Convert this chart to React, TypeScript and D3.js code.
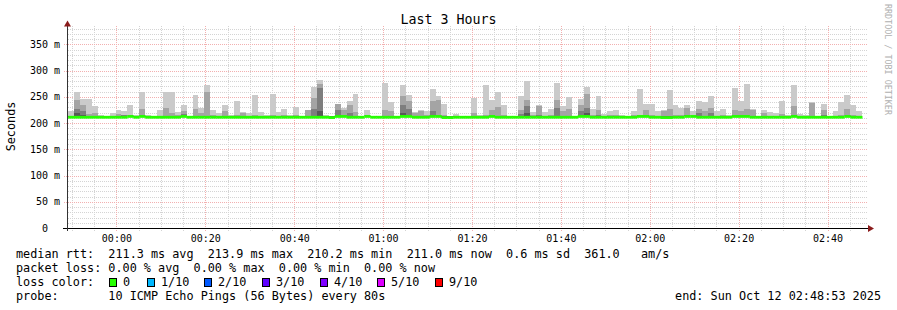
import React from "react";
import * as d3 from "d3";

// ---------- data ----------
const endTime = Date.UTC(2025, 9, 12, 2, 48, 53);
const spanMs = 3 * 3600 * 1000;
const stepMs = 80 * 1000;
const firstStepOffsetMs = 15000;

// 10th (max) ping of each 80 s step, ms
const ping10: number[] = [
  222, 260, 245, 245, 231.6, 216, 213, 219, 224.6, 222.7,
  233.5, 215.7, 260, 216, 213, 224.6, 259, 260, 220.8, 233.5,
  213, 252.5, 228, 271.6, 224.6, 219, 235, 216, 241, 220.8,
  219, 252.5, 220.8, 216, 254.5, 220.8, 226.5, 216, 230, 213,
  224.6, 268.4, 281, 214.4, 213, 237, 228, 241, 254.5, 213,
  224, 213, 213, 275.4, 239.8, 213, 271.6, 252.5, 220.8, 224.6,
  222.7, 264, 250.6, 237, 213, 217.6, 213, 213, 247.5, 214.4,
  271.6, 243, 260, 235, 213, 213, 250.6, 280, 220.8, 235,
  220.8, 226.5, 276, 231.6, 249.4, 213, 245, 268, 226.5, 250.6,
  218, 222, 224, 216, 213, 222, 264, 237, 237, 222,
  224.6, 262, 235, 228, 233.5, 223, 241, 239.8, 250.6, 222,
  226.5, 216, 266.5, 241, 273.5, 226.5, 213, 224.6, 220.8, 219,
  241, 216, 271.6, 218, 214.4, 239.8, 213, 237, 213, 222,
  239.8, 252.5, 233.5, 222,
];
// 9th ping
const ping9: number[] = [
  213.5, 243, 233.5, 218, 219, 213.5, 213.5, 213.5, 217, 215,
  216, 213.5, 226.5, 213.5, 213.5, 213.5, 228, 219, 216, 222,
  213.5, 226.5, 219, 259, 216, 213.5, 222, 213.5, 216, 219,
  213.5, 216, 213.5, 213.5, 216, 213.5, 216, 213.5, 215, 213.5,
  224.6, 247.5, 275, 213.5, 213.5, 237, 224.6, 235, 220.8, 213.5,
  216, 213.5, 213.5, 224.6, 222.7, 213.5, 250.6, 241, 219, 222,
  216, 241, 243, 216, 213.5, 213.5, 213.5, 213.5, 219, 213.5,
  216, 224.6, 230, 216, 213.5, 213.5, 224.6, 243, 216, 231.6,
  213.5, 216, 243, 222.7, 226.5, 213.5, 235, 254.5, 216, 224.6,
  213.5, 216, 216, 213.5, 213.5, 216, 216, 224.6, 216, 213.5,
  222.7, 226, 216, 216, 228, 213.5, 226.5, 222, 228, 213.5,
  216, 213.5, 224.6, 222.7, 226.5, 224.6, 213.5, 219, 213.5, 213.5,
  216.5, 213.5, 231.6, 213.5, 213.5, 238.5, 213.5, 224.6, 213.5, 213.5,
  216, 226, 216, 213.5,
];
// 8th ping
const ping8: number[] = [
  213, 227, 222.7, 213, 213, 213, 213, 213, 213, 214.5,
  213, 213, 213, 213, 213, 213, 213, 213, 213, 217,
  213, 213, 213, 213, 213, 213, 213, 213, 213, 213,
  213, 213, 213, 213, 213, 213, 213, 213, 213, 213,
  213, 226.5, 266.5, 213, 213, 224.6, 213, 219, 213, 213,
  213, 213, 213, 213, 213, 213, 233.5, 226.5, 213, 213,
  213, 222, 213, 213, 213, 213, 213, 213, 213, 213,
  213, 213, 213, 213, 213, 213, 218, 231.6, 213, 216,
  213, 213, 228, 213, 213, 213, 222, 228, 213, 216,
  213, 213, 213, 213, 213, 213, 213, 213, 213, 213,
  213, 213, 213, 213, 216, 213, 219, 213, 219, 213,
  213, 213, 213, 213, 213, 213, 213, 213, 213, 213,
  213, 213, 216, 213, 213, 213, 213, 216, 213, 213,
  213, 213, 213, 213,
];
// 7th ping
const ping7: number[] = [
  212.5, 220, 216, 212.5, 212.5, 212.5, 212.5, 212.5, 212.5, 212.5,
  212.5, 212.5, 212.5, 212.5, 212.5, 212.5, 212.5, 212.5, 212.5, 212.5,
  212.5, 212.5, 212.5, 212.5, 212.5, 212.5, 212.5, 212.5, 212.5, 212.5,
  212.5, 212.5, 212.5, 212.5, 212.5, 212.5, 212.5, 212.5, 212.5, 212.5,
  212.5, 212.5, 222, 212.5, 212.5, 212.5, 212.5, 212.5, 212.5, 212.5,
  212.5, 212.5, 212.5, 212.5, 212.5, 212.5, 220, 212.5, 212.5, 212.5,
  212.5, 212.5, 212.5, 212.5, 212.5, 212.5, 212.5, 212.5, 212.5, 212.5,
  212.5, 212.5, 212.5, 212.5, 212.5, 212.5, 212.5, 219, 212.5, 212.5,
  212.5, 212.5, 212.5, 212.5, 212.5, 212.5, 212.5, 219, 212.5, 212.5,
  212.5, 212.5, 212.5, 212.5, 212.5, 212.5, 212.5, 212.5, 212.5, 212.5,
  212.5, 212.5, 212.5, 212.5, 212.5, 212.5, 212.5, 212.5, 212.5, 212.5,
  212.5, 212.5, 212.5, 212.5, 212.5, 212.5, 212.5, 212.5, 212.5, 212.5,
  212.5, 212.5, 212.5, 212.5, 212.5, 212.5, 212.5, 212.5, 212.5, 212.5,
  212.5, 212.5, 212.5, 212.5,
];
// median rtt
const median: number[] = [
  211, 211, 211, 211, 211, 211, 211, 211, 211, 211,
  212.5, 211, 212.5, 211, 211, 211, 211, 211, 211, 212.5,
  211, 211, 211, 211, 211, 211, 211, 211, 211, 211,
  211, 211, 211, 211, 211, 211, 211, 211, 211, 211,
  211, 211, 211, 211, 210.4, 212.5, 212.5, 211, 211, 211,
  212.5, 211, 211, 211, 211, 211, 212.5, 212.5, 211, 211,
  211, 212.5, 212.5, 210.4, 210.4, 211, 211, 211, 211, 211,
  211, 212.5, 211, 211, 211, 211, 211, 211, 211, 211,
  211, 211, 211, 211, 211, 211, 212.5, 212.5, 211, 211,
  211, 211, 211, 211, 211, 211, 212.5, 212.5, 211, 211,
  210.4, 210.4, 211, 211, 212.5, 212.5, 211, 211, 211, 211,
  211, 211, 212.5, 212.5, 212.5, 211, 211, 211, 211, 211,
  211, 211, 212.5, 211, 211, 211, 211, 211, 211, 211,
  211, 212.5, 211, 211,
];

const yTickValues = [0, 50, 100, 150, 200, 250, 300, 350];
const lossLabels = ["0", "1/10", "2/10", "3/10", "4/10", "5/10", "9/10"];
const lossColors = ["#26ff00", "#00b8ff", "#0059ff", "#5e00ff", "#7e00ff", "#dd00ff", "#ff0000"];
const lossBoxX = [109, 147, 204, 262, 320, 377, 435];
const smokeColors = ["#cacaca", "#a4a4a4", "#7e7e7e", "#585858"];

const line1 = "median rtt:  211.3 ms avg  213.9 ms max  210.2 ms min  211.0 ms now  0.6 ms sd  361.0   am/s";
const line2 = "packet loss: 0.00 % avg  0.00 % max  0.00 % min  0.00 % now";
const line4 = "probe:       10 ICMP Echo Pings (56 Bytes) every 80s";
const endText = "end: Sun Oct 12 02:48:53 2025";

// ---------- scales ----------
const x = d3.scaleUtc().domain([new Date(endTime - spanMs), new Date(endTime)]).range([67, 867]);
const y = d3.scaleLinear().domain([0, 384.8]).range([228, 26]);
const mono = "'DejaVu Sans Mono', monospace";

export default function App() {
  const steps = ping10.map((_, k) => {
    const t0 = endTime - spanMs + firstStepOffsetMs + k * stepMs;
    return { t0, t1: t0 + stepMs, k };
  });
  const minorX = x.ticks(d3.utcMinute.every(5) as any);
  const majorX = x.ticks(d3.utcMinute.every(20) as any);
  const fmt = d3.utcFormat("%H:%M");
  const minorY = d3.range(10, 390, 10).filter((v) => v % 50 !== 0 && y(v) >= 26);
  const px = (v: number) => Math.round(v) + 0.5;
  const bands = [ping10, ping9, ping8, ping7];

  return (
    <svg width={897} height={310} style={{ position: "absolute", left: 0, top: 0, background: "#fff" }} fontFamily={mono}>
      <rect width={897} height={310} fill="#fff" />
      {/* minor grid */}
      <g stroke="#d4d4d4" strokeWidth={1} strokeDasharray="1,1" shapeRendering="crispEdges">
        {minorY.map((v) => (
          <line key={"hy" + v} x1={68} x2={867} y1={px(y(v))} y2={px(y(v))} />
        ))}
        {minorX.map((t) => (
          <line key={"vx" + +t} x1={px(x(t))} x2={px(x(t))} y1={26} y2={231} />
        ))}
      </g>
      {/* major grid */}
      <g stroke="#f2b0b0" strokeWidth={1} strokeDasharray="1,1" shapeRendering="crispEdges">
        {yTickValues.filter((v) => v > 0).map((v) => (
          <line key={"my" + v} x1={64} x2={867} y1={px(y(v))} y2={px(y(v))} />
        ))}
        {majorX.map((t) => (
          <line key={"mx" + +t} x1={px(x(t))} x2={px(x(t))} y1={26} y2={231} />
        ))}
      </g>
      {/* smoke */}
      <g shapeRendering="crispEdges">
        {bands.map((arr, bi) =>
          steps.map((s) => {
            const top = y(arr[s.k]);
            const bot = y(median[s.k]);
            if (bot - top <= 0) return null;
            return (
              <rect key={"b" + bi + "-" + s.k} x={x(new Date(s.t0))} width={x(new Date(s.t1)) - x(new Date(s.t0))}
                y={top} height={bot - top} fill={smokeColors[bi]} />
            );
          })
        )}
      </g>
      {/* median, coloured by loss (all 0 loss) */}
      <g>
        {steps.map((s) => (
          <rect key={"m" + s.k} x={x(new Date(s.t0))} width={x(new Date(s.t1)) - x(new Date(s.t0)) + 0.3}
            y={y(median[s.k]) - 1.4} height={2.8} fill={lossColors[0]} />
        ))}
      </g>
      {/* axes */}
      <line x1={63} x2={869} y1={228.5} y2={228.5} stroke="#000" shapeRendering="crispEdges" />
      <line x1={67.5} x2={67.5} y1={231} y2={24} stroke="#333" shapeRendering="crispEdges" />
      <polygon points="868,225 874,228.5 868,232" fill="#8b1c1c" />
      <polygon points="64,26.5 67.5,20.5 71,26.5" fill="#8b1c1c" />
      {/* y labels */}
      <g fontSize={10} textAnchor="end" fill="#000">
        {yTickValues.map((v) => (
          <text key={"yl" + v} x={v === 0 ? 48 : 60} y={y(v) + 3.5}>{v === 0 ? "0" : `${v} m`}</text>
        ))}
      </g>
      {/* x labels */}
      <g fontSize={10} textAnchor="middle" fill="#000">
        {majorX.map((t) => (
          <text key={"xl" + +t} x={x(t) + 0.5} y={241.5}>{fmt(t)}</text>
        ))}
      </g>
      {/* title */}
      <text x={448.5} y={24} fontSize={13.3} textAnchor="middle" fill="#000">Last 3 Hours</text>
      {/* y axis title */}
      <text transform="translate(14.5,126.5) rotate(-90)" fontSize={11.8} textAnchor="middle" fill="#000">Seconds</text>
      {/* watermark */}
      <text transform="translate(885,4) rotate(90)" fontSize={8.4} fill="#b0b0b0">RRDTOOL / TOBI OETIKER</text>
      {/* legend */}
      <g fontSize={11.8} fill="#000" style={{ whiteSpace: "pre" }}>
        <text x={16} y={258} xmlSpace="preserve">{line1}</text>
        <text x={16} y={272} xmlSpace="preserve">{line2}</text>
        <text x={16} y={286}>loss color:</text>
        {lossLabels.map((l, i) => (
          <g key={"lc" + i}>
            <rect x={lossBoxX[i] + 0.5} y={278.5} width={7} height={8} fill={lossColors[i]} stroke="#000" />
            <text x={lossBoxX[i] + 14} y={286}>{l}</text>
          </g>
        ))}
        <text x={16} y={300} xmlSpace="preserve">{line4}</text>
        <text x={881} y={300} textAnchor="end">{endText}</text>
      </g>
    </svg>
  );
}
